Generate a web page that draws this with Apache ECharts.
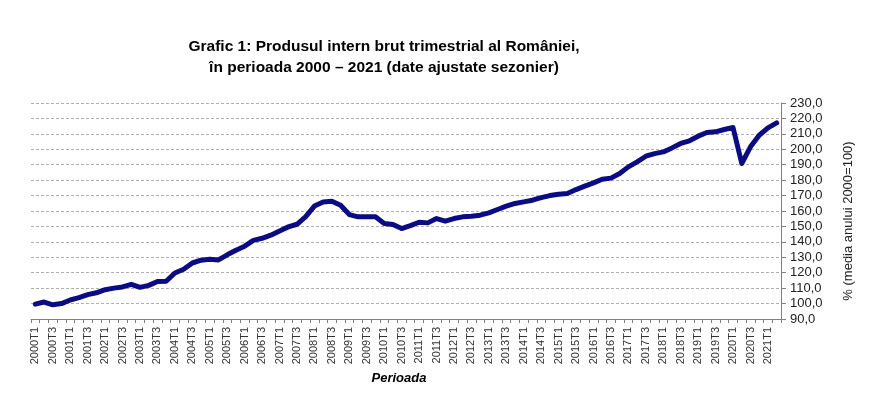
<!DOCTYPE html>
<html>
<head>
<meta charset="utf-8">
<script src="https://cdn.jsdelivr.net/npm/echarts@6/dist/echarts.min.js"></script>
<style>
html,body{margin:0;padding:0;background:#fff;}
#chart{width:873px;height:399px;}
</style>
</head>
<body>
<div id="chart"></div>
<script>
// Quarters 2000T1 .. 2021T2
const years = [2000,2001,2002,2003,2004,2005,2006,2007,2008,2009,2010,2011,2012,2013,2014,2015,2016,2017,2018,2019,2020,2021];
const quarters = ['T1','T2','T3','T4'];
const categories = [];
years.forEach(y => quarters.forEach(q => { if (!(y === 2021 && (q === 'T3' || q === 'T4'))) categories.push(y + q); }));

const gdpIndex = [
  99.6, 101.0, 99.2, 100.0,
  102.3, 103.8, 105.8, 107.0,
  109.0, 110.0, 110.8, 112.5,
  110.5, 111.8, 114.3, 114.5,
  119.8, 122.2, 126.3, 128.1,
  128.7, 128.3, 131.6, 134.6,
  137.2, 141.0, 142.3, 144.3,
  147.1, 149.7, 151.4, 156.3,
  163.2, 165.9, 166.3, 163.7,
  157.7, 156.2, 156.2, 156.2,
  151.9, 151.2, 148.6, 150.5,
  152.7, 152.3, 155.1, 153.4,
  155.1, 156.2, 156.6, 157.3,
  158.8, 161.0, 163.1, 164.9,
  165.9, 167.0, 168.7, 170.0,
  170.9, 171.3, 173.9, 176.1,
  178.2, 180.6, 181.3, 184.3,
  188.6, 191.8, 195.5, 197.2,
  198.3, 200.9, 203.8, 205.5,
  208.5, 210.9, 211.3, 212.8,
  214.1, 190.8, 201.6, 209.1,
  213.9, 217.1
];

const titleText = 'Grafic 1: Produsul intern brut trimestrial al României,\nîn perioada 2000 – 2021 (date ajustate sezonier)';
const yAxisName = '% (media anului 2000=100)';
const xAxisName = 'Perioada';

const chart = echarts.init(document.getElementById('chart'), null, {renderer: 'canvas'});
chart.setOption({
  animation: false,
  backgroundColor: '#ffffff',
  textStyle: {fontFamily: 'Liberation Sans, Arial, sans-serif'},
  title: {
    text: titleText,
    left: 379,
    top: 31,
    textAlign: 'center',
    textStyle: {fontFamily: 'Liberation Sans, Arial, sans-serif', fontSize: 15.5, fontWeight: 'bold', color: '#000', lineHeight: 21}
  },
  grid: {left: 31, right: 92, top: 103, bottom: 80, containLabel: false},
  xAxis: {
    type: 'category',
    data: categories,
    boundaryGap: true,
    name: xAxisName,
    nameLocation: 'middle',
    nameGap: 53,
    nameTextStyle: {fontFamily: 'Liberation Sans, Arial, sans-serif', fontSize: 13, fontWeight: 'bold', fontStyle: 'italic', color: '#000', padding: [0, 14, 0, 0]},
    axisLine: {lineStyle: {color: '#808080', width: 1}},
    axisTick: {show: true, interval: 0, length: 4, lineStyle: {color: '#808080'}},
    axisLabel: {interval: 1, rotate: 90, fontSize: 11, color: '#333', margin: 8, fontFamily: 'Liberation Sans, Arial, sans-serif'},
    splitLine: {show: false}
  },
  yAxis: {
    type: 'value',
    position: 'right',
    min: 90,
    max: 230,
    interval: 10,
    name: yAxisName,
    nameLocation: 'middle',
    nameRotate: 90,
    nameGap: 61,
    nameTextStyle: {fontFamily: 'Liberation Sans, Arial, sans-serif', fontSize: 13, color: '#222', padding: [0, 20, 0, 0]},
    axisLine: {show: true, lineStyle: {color: '#808080', width: 1}},
    axisTick: {show: true, inside: false, length: 5, lineStyle: {color: '#808080'}},
    axisLabel: {fontSize: 13, color: '#222', margin: 9, fontFamily: 'Liberation Sans, Arial, sans-serif',
      formatter: v => v.toFixed(1).replace('.', ',')},
    splitLine: {show: true, lineStyle: {color: '#b0b0b0', width: 1, type: [3, 2]}}
  },
  series: [{
    type: 'line',
    data: gdpIndex,
    symbol: 'none',
    smooth: false,
    lineStyle: {color: '#0b0b84', width: 5, cap: 'round', join: 'round'}
  }]
});
</script>
</body>
</html>
